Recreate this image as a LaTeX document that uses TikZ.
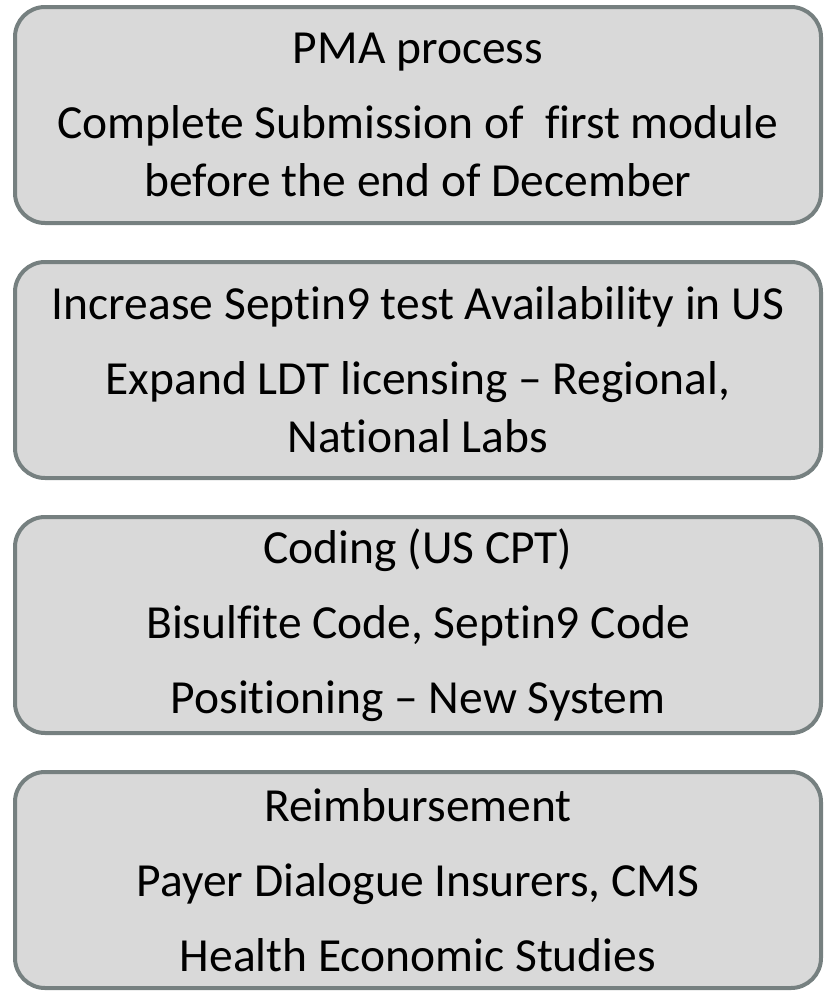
\documentclass[tikz,border=0pt]{standalone}
\usepackage{fontspec}
\setmainfont{Carlito}[Ligatures=NoCommon]
\usetikzlibrary{positioning}
\definecolor{boxline}{RGB}{118,128,128}
\definecolor{boxfill}{RGB}{217,217,217}

\begin{document}
\begin{tikzpicture}[
        goal/.style={
                rectangle,
                rounded corners=30pt,
                draw=boxline,
                fill=boxfill,
                line width=4pt,
                minimum width=806pt,
                minimum height=216pt,
                align=center,
                font=\fontsize{47.5}{58}\selectfont
            },
        node distance=35pt
    ]
    \useasboundingbox (0,0) rectangle (823pt,-991pt);
    \node[goal] (PMA) at (418pt,-115pt) {PMA process\\[17pt]Complete Submission of\ \ first module\\before the end of December};
    \node[goal] (Availability) [below=of PMA] {Increase Septin9 test Availability in US\\[17pt]Expand LDT licensing – Regional,\\National Labs};
    \node[goal] (Coding) [below=of Availability] {Coding (US CPT)\\[17pt]Bisulfite Code, Septin9 Code\\[17pt]Positioning – New System};
    \node[goal] (Reimbursement) [below=of Coding] {Reimbursement\\[17pt]Payer Dialogue Insurers, CMS\\[17pt]Health Economic Studies};
\end{tikzpicture}
\end{document}
